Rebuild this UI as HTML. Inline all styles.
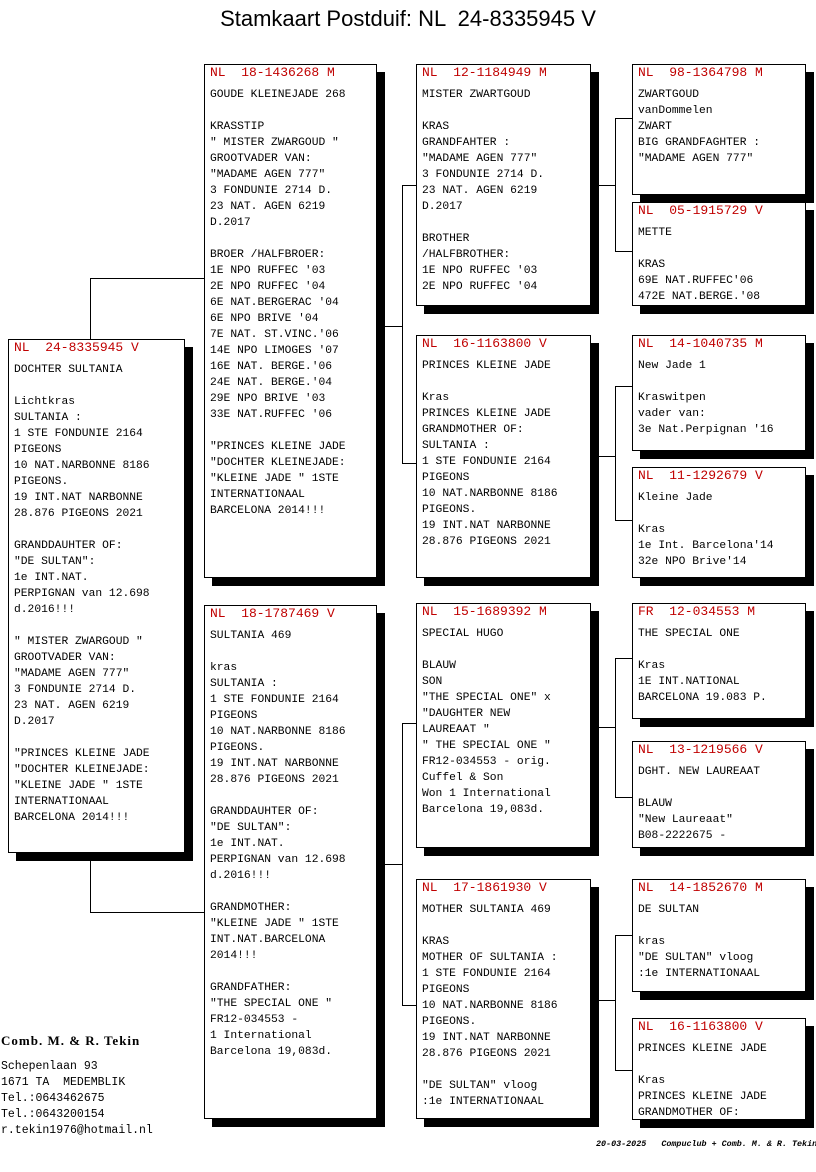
<!DOCTYPE html>
<html><head><meta charset="utf-8"><style>
body{margin:0;width:816px;height:1172px;background:#fff;position:relative;overflow:hidden;font-family:"Liberation Mono",monospace;}
.b{position:absolute;border:1px solid #000;background:#fff;box-shadow:8px 8px 0 #000;box-sizing:border-box;padding:0 0 0 5px;font-size:11.3px;line-height:16px;white-space:pre;color:#000;}
.b .h{color:#c00000;font-size:13px;line-height:14px;margin-bottom:7px;margin-top:1px;}
.l{position:absolute;background:#000;}
.t{position:absolute;left:0;width:816px;text-align:center;white-space:pre;font-family:"Liberation Sans",sans-serif;}
.addr{position:absolute;left:1px;font-size:11.5px;line-height:16px;white-space:pre;font-family:"Liberation Mono",monospace;}
</style></head><body>
<div class="t" style="font-size:22px;top:6px">Stamkaart Postduif: NL  24-8335945 V</div>

<div class="l" style="left:90px;top:278px;width:1px;height:61px"></div>
<div class="l" style="left:90px;top:278px;width:114px;height:1px"></div>
<div class="l" style="left:90px;top:852px;width:1px;height:60px"></div>
<div class="l" style="left:90px;top:912px;width:114px;height:1px"></div>

<div class="l" style="left:384px;top:326px;width:18px;height:1px"></div>
<div class="l" style="left:402px;top:185px;width:1px;height:278px"></div>
<div class="l" style="left:402px;top:185px;width:14px;height:1px"></div>
<div class="l" style="left:402px;top:463px;width:14px;height:1px"></div>

<div class="l" style="left:384px;top:864px;width:18px;height:1px"></div>
<div class="l" style="left:402px;top:723px;width:1px;height:282px"></div>
<div class="l" style="left:402px;top:723px;width:14px;height:1px"></div>
<div class="l" style="left:402px;top:1005px;width:14px;height:1px"></div>

<div class="l" style="left:598px;top:185px;width:17px;height:1px"></div>
<div class="l" style="left:615px;top:118px;width:1px;height:133px"></div>
<div class="l" style="left:615px;top:118px;width:17px;height:1px"></div>
<div class="l" style="left:615px;top:251px;width:17px;height:1px"></div>

<div class="l" style="left:598px;top:456px;width:17px;height:1px"></div>
<div class="l" style="left:615px;top:386px;width:1px;height:134px"></div>
<div class="l" style="left:615px;top:386px;width:17px;height:1px"></div>
<div class="l" style="left:615px;top:520px;width:17px;height:1px"></div>

<div class="l" style="left:598px;top:727px;width:17px;height:1px"></div>
<div class="l" style="left:615px;top:658px;width:1px;height:139px"></div>
<div class="l" style="left:615px;top:658px;width:17px;height:1px"></div>
<div class="l" style="left:615px;top:797px;width:17px;height:1px"></div>

<div class="l" style="left:598px;top:1000px;width:17px;height:1px"></div>
<div class="l" style="left:615px;top:935px;width:1px;height:135px"></div>
<div class="l" style="left:615px;top:935px;width:17px;height:1px"></div>
<div class="l" style="left:615px;top:1070px;width:17px;height:1px"></div>

<div class="b" style="left:8px;top:339px;width:177px;height:514px"><div class="h">NL  24-8335945 V</div>DOCHTER SULTANIA

Lichtkras
SULTANIA :
1 STE FONDUNIE 2164
PIGEONS
10 NAT.NARBONNE 8186
PIGEONS.
19 INT.NAT NARBONNE
28.876 PIGEONS 2021

GRANDDAUHTER OF:
"DE SULTAN":
1e INT.NAT.
PERPIGNAN van 12.698
d.2016!!!

" MISTER ZWARGOUD "
GROOTVADER VAN:
"MADAME AGEN 777"
3 FONDUNIE 2714 D.
23 NAT. AGEN 6219
D.2017

"PRINCES KLEINE JADE
"DOCHTER KLEINEJADE:
"KLEINE JADE " 1STE
INTERNATIONAAL
BARCELONA 2014!!!</div>

<div class="b" style="left:204px;top:64px;width:173px;height:514px"><div class="h">NL  18-1436268 M</div>GOUDE KLEINEJADE 268

KRASSTIP
" MISTER ZWARGOUD "
GROOTVADER VAN:
"MADAME AGEN 777"
3 FONDUNIE 2714 D.
23 NAT. AGEN 6219
D.2017

BROER /HALFBROER:
1E NPO RUFFEC '03
2E NPO RUFFEC '04
6E NAT.BERGERAC '04
6E NPO BRIVE '04
7E NAT. ST.VINC.'06
14E NPO LIMOGES '07
16E NAT. BERGE.'06
24E NAT. BERGE.'04
29E NPO BRIVE '03
33E NAT.RUFFEC '06

"PRINCES KLEINE JADE
"DOCHTER KLEINEJADE:
"KLEINE JADE " 1STE
INTERNATIONAAL
BARCELONA 2014!!!</div>
<div class="b" style="left:204px;top:605px;width:173px;height:514px"><div class="h">NL  18-1787469 V</div>SULTANIA 469

kras
SULTANIA :
1 STE FONDUNIE 2164
PIGEONS
10 NAT.NARBONNE 8186
PIGEONS.
19 INT.NAT NARBONNE
28.876 PIGEONS 2021

GRANDDAUHTER OF:
"DE SULTAN":
1e INT.NAT.
PERPIGNAN van 12.698
d.2016!!!

GRANDMOTHER:
"KLEINE JADE " 1STE
INT.NAT.BARCELONA
2014!!!

GRANDFATHER:
"THE SPECIAL ONE "
FR12-034553 -
1 International
Barcelona 19,083d.</div>

<div class="b" style="left:416px;top:64px;width:175px;height:242px"><div class="h">NL  12-1184949 M</div>MISTER ZWARTGOUD

KRAS
GRANDFAHTER :
"MADAME AGEN 777"
3 FONDUNIE 2714 D.
23 NAT. AGEN 6219
D.2017

BROTHER
/HALFBROTHER:
1E NPO RUFFEC '03
2E NPO RUFFEC '04</div>
<div class="b" style="left:416px;top:335px;width:175px;height:243px"><div class="h">NL  16-1163800 V</div>PRINCES KLEINE JADE

Kras
PRINCES KLEINE JADE
GRANDMOTHER OF:
SULTANIA :
1 STE FONDUNIE 2164
PIGEONS
10 NAT.NARBONNE 8186
PIGEONS.
19 INT.NAT NARBONNE
28.876 PIGEONS 2021</div>
<div class="b" style="left:416px;top:603px;width:175px;height:245px"><div class="h">NL  15-1689392 M</div>SPECIAL HUGO

BLAUW
SON
"THE SPECIAL ONE" x
"DAUGHTER NEW
LAUREAAT "
" THE SPECIAL ONE "
FR12-034553 - orig.
Cuffel &amp; Son
Won 1 International
Barcelona 19,083d.</div>
<div class="b" style="left:416px;top:879px;width:175px;height:240px"><div class="h">NL  17-1861930 V</div>MOTHER SULTANIA 469

KRAS
MOTHER OF SULTANIA :
1 STE FONDUNIE 2164
PIGEONS
10 NAT.NARBONNE 8186
PIGEONS.
19 INT.NAT NARBONNE
28.876 PIGEONS 2021

"DE SULTAN" vloog
:1e INTERNATIONAAL</div>

<div class="b" style="left:632px;top:64px;width:174px;height:131px"><div class="h">NL  98-1364798 M</div>ZWARTGOUD
vanDommelen
ZWART
BIG GRANDFAGHTER :
"MADAME AGEN 777"</div>
<div class="b" style="left:632px;top:202px;width:174px;height:104px"><div class="h">NL  05-1915729 V</div>METTE

KRAS
69E NAT.RUFFEC'06
472E NAT.BERGE.'08</div>
<div class="b" style="left:632px;top:335px;width:174px;height:116px"><div class="h">NL  14-1040735 M</div>New Jade 1

Kraswitpen
vader van:
3e Nat.Perpignan '16</div>
<div class="b" style="left:632px;top:467px;width:174px;height:111px"><div class="h">NL  11-1292679 V</div>Kleine Jade

Kras
1e Int. Barcelona'14
32e NPO Brive'14</div>
<div class="b" style="left:632px;top:603px;width:174px;height:116px"><div class="h">FR  12-034553 M</div>THE SPECIAL ONE

Kras
1E INT.NATIONAL
BARCELONA 19.083 P.</div>
<div class="b" style="left:632px;top:741px;width:174px;height:107px"><div class="h">NL  13-1219566 V</div>DGHT. NEW LAUREAAT

BLAUW
"New Laureaat"
B08-2222675 -</div>
<div class="b" style="left:632px;top:879px;width:174px;height:113px"><div class="h">NL  14-1852670 M</div>DE SULTAN

kras
"DE SULTAN" vloog
:1e INTERNATIONAAL</div>
<div class="b" style="left:632px;top:1018px;width:174px;height:102px"><div class="h">NL  16-1163800 V</div>PRINCES KLEINE JADE

Kras
PRINCES KLEINE JADE
GRANDMOTHER OF:</div>

<div class="addr" style="top:1033px;font-family:'Liberation Serif',serif;font-weight:bold;font-size:13px;letter-spacing:1px">Comb. M. &amp; R. Tekin</div>
<div class="addr" style="top:1059px">Schepenlaan 93
1671 TA  MEDEMBLIK
Tel.:0643462675
Tel.:0643200154
r.tekin1976@hotmail.nl</div>
<div style="position:absolute;left:596px;top:1139px;font-size:8.4px;font-style:italic;font-weight:bold;white-space:pre;font-family:'Liberation Mono',monospace">20-03-2025   Compuclub + Comb. M. &amp; R. Tekin</div>
</body></html>
